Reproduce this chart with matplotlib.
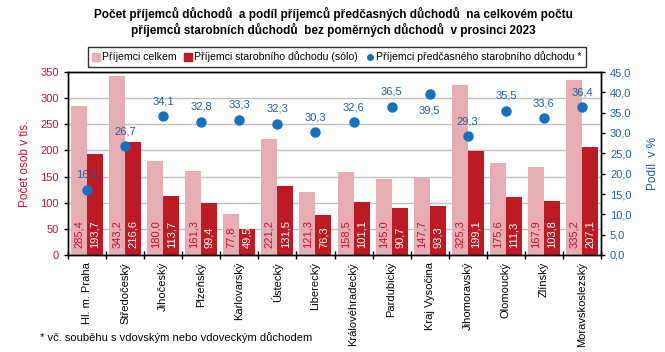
import matplotlib
matplotlib.use("Agg")
import matplotlib.pyplot as plt
import numpy as np
from matplotlib.lines import Line2D

plt.rcParams['font.family'] = ['Liberation Sans', 'DejaVu Sans']

categories = ["Hl. m. Praha", "Středočeský", "Jihočeský", "Plzeňský", "Karlovarský",
              "Ústecký", "Liberecký", "Královéhradecký", "Pardubický", "Kraj Vysočina",
              "Jihomoravský", "Olomoucký", "Zlínský", "Moravskoslezský"]
total = [285.4, 343.2, 180.0, 161.3, 77.8, 221.2, 121.3, 158.5, 145.0, 147.7, 325.3, 175.6, 167.9, 335.2]
solo = [193.7, 216.6, 113.7, 99.4, 49.5, 131.5, 76.3, 101.1, 90.7, 93.3, 199.1, 111.3, 103.8, 207.1]
pct = [16.1, 26.7, 34.1, 32.8, 33.3, 32.3, 30.3, 32.6, 36.5, 39.5, 29.3, 35.5, 33.6, 36.4]

PINK = '#e6adb2'
RED = '#be1a24'
BLUE = '#1670c0'
LBLUE = '#1f5fa8'
LRED = '#c8102e'

W, H = 665, 352
fig = plt.figure(figsize=(W/100, H/100), dpi=100)
ax = fig.add_axes([68/W, (H-255)/H, 533/W, 183/H])
ax2 = ax.twinx()

x = np.arange(len(categories))
bw = 0.42
ax.bar(x - bw/2, total, width=bw, color=PINK, zorder=2)
ax.bar(x + bw/2, solo, width=bw, color=RED, zorder=2)

def fmt(v):
    return f"{v:.1f}".replace('.', ',')

for i in range(len(x)):
    ax.annotate(fmt(total[i]), (x[i] - bw/2, 0), xytext=(0, 5), textcoords='offset points',
                rotation=90, ha='center', va='bottom', fontsize=8, color=LRED, zorder=3)
    ax.annotate(fmt(solo[i]), (x[i] + bw/2, 0), xytext=(0, 5), textcoords='offset points',
                rotation=90, ha='center', va='bottom', fontsize=8, color='white', zorder=3)

ax.set_ylim(0, 350)
ax.set_xlim(-0.5, len(x) - 0.5)
ax.set_yticks(np.arange(0, 351, 50))
ax.yaxis.grid(True, color='#bfbfbf', linewidth=1, zorder=0)
ax.set_axisbelow(True)
ax.tick_params(axis='y', direction='out', length=3, labelsize=8, labelcolor=LRED, width=1)
ax.set_xticks(x)
ax.set_xticklabels(categories, rotation=90, fontsize=8)
ax.tick_params(axis='x', length=0, pad=5)
ax.set_xticks(np.arange(-0.5, len(x), 1), minor=True)
ax.tick_params(axis='x', which='minor', direction='inout', length=6, width=1)
ax.set_ylabel("Počet osob v tis.", color=LRED, fontsize=8.5, labelpad=7)

ax2.set_ylim(0, 45)
ax2.set_yticks(np.arange(0, 46, 5))
ax2.set_yticklabels([fmt(v) for v in np.arange(0, 46, 5)])
ax2.tick_params(axis='y', direction='out', length=3, labelsize=8, labelcolor=LBLUE, width=1)
ax2.plot(x, pct, 'o', color=BLUE, markersize=6.5, zorder=5, linestyle='none')
for i in range(len(x)):
    if pct[i] > 38:
        ax2.annotate(fmt(pct[i]), (x[i], pct[i]), xytext=(0, -8), textcoords='offset points',
                     ha='center', va='top', fontsize=8, color=LBLUE)
    else:
        ax2.annotate(fmt(pct[i]), (x[i], pct[i]), xytext=(0, 7), textcoords='offset points',
                     ha='center', va='bottom', fontsize=8, color=LBLUE)
ax2.set_ylabel("Podíl  v %", color=LBLUE, fontsize=8.5, labelpad=11)

for a in (ax, ax2):
    for s in a.spines.values():
        s.set_color('black')
        s.set_linewidth(1)

fig.text(333/W, 1 - 22/H, "Počet příjemců důchodů  a podíl příjemců předčasných důchodů  na celkovém počtu\npříjemců starobních důchodů  bez poměrných důchodů  v prosinci 2023",
         ha='center', va='center', fontsize=8.5, fontweight='bold', linespacing=1.15)

handles = [Line2D([], [], marker='s', color=PINK, linestyle='none', markersize=5.5),
           Line2D([], [], marker='s', color=RED, linestyle='none', markersize=5.5),
           Line2D([], [], marker='o', color=BLUE, linestyle='none', markersize=4)]
labels = ["Příjemci celkem", "Příjemci starobního důchodu (sólo)", "Příjemci předčasného starobního důchodu *"]
leg = fig.legend(handles, labels, loc='center', bbox_to_anchor=(337/W, 1 - 57/H), ncol=3,
                 fontsize=7.6, frameon=True, fancybox=False, edgecolor='black',
                 handlelength=0.6, handletextpad=0.3, columnspacing=0.8, borderpad=0.4)
leg.get_frame().set_linewidth(1)

fig.text(40/W, 1 - 338/H, "* vč. souběhu s vdovským nebo vdoveckým důchodem", fontsize=8, va='center')

fig.savefig("out.png", dpi=100)
